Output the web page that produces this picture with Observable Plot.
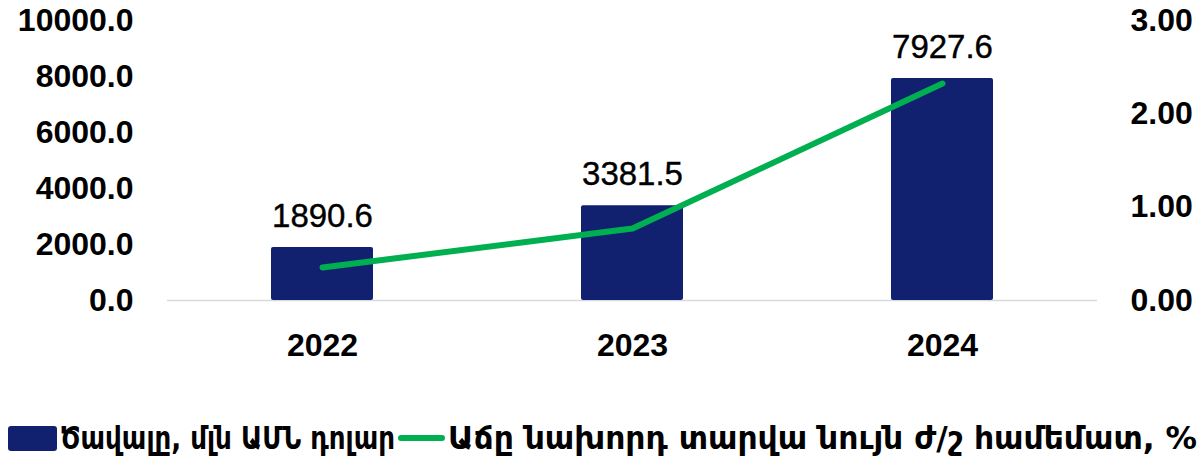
<!DOCTYPE html>
<html>
<head>
<meta charset="utf-8">
<script src="https://cdn.jsdelivr.net/npm/d3@7"></script>
<script src="https://cdn.jsdelivr.net/npm/@observablehq/plot@0.6"></script>
<style>
  html, body { margin: 0; padding: 0; background: #fff; }
  body { width: 1202px; height: 460px; position: relative; overflow: hidden; font-family: "Liberation Sans", Arial, sans-serif; }
  #chart { position: absolute; left: 0; top: 0; }
  #legend { position: absolute; left: 0; top: 420px; width: 1202px; height: 36px;
    font-family: "DejaVu Sans Condensed", "DejaVu Sans", sans-serif; font-weight: bold; font-stretch: condensed;
    font-size: 32px; color: #000; white-space: nowrap; }
  .item { position: absolute; top: 0; height: 36px; display: flex; align-items: center; }
  .swatch { width: 49px; height: 25px; background: #12216f; border-radius: 3px; flex: none; }
  .ln { width: 47px; height: 6px; background: #00b050; border-radius: 3px; flex: none; }
  .lt { display: inline-block; transform-origin: 0 50%; }
</style>
</head>
<body>
<div id="chart"></div>
<div id="legend"></div>
<script>
const years = ["2022", "2023", "2024"];
const volume = [1890.6, 3381.5, 7927.6];
const growth = [0.354, 0.771, 2.325];
const leftTicks = [0, 2000, 4000, 6000, 8000, 10000];
const rightTicks = [0, 1, 2, 3];
const seriesNames = ["Ծավալը, մլն ԱՄՆ դոլար", "Աճը նախորդ տարվա նույն ժ/շ համեմատ, %"];

const K = 10000 / 3; // right-axis to left-axis conversion
const data = years.map((y, i) => ({year: y, volume: volume[i], growth: growth[i]}));

const font = "Liberation Sans, Arial, sans-serif";

const chart = Plot.plot({
  width: 1202,
  height: 380,
  marginLeft: 167,
  marginRight: 105,
  marginTop: 20,
  marginBottom: 80,
  style: {fontFamily: font, background: "#fff", color: "#000"},
  x: {domain: years, paddingInner: 0.67, paddingOuter: 0.335, axis: null},
  y: {domain: [0, 10000], axis: null},
  marks: [
    Plot.ruleY([0], {stroke: "#d9d9d9", strokeWidth: 1.5}),
    Plot.barY(data, {x: "year", y: "volume", fill: "#12216f", rx: 2}),
    Plot.line(data, {x: "year", y: d => d.growth * K, stroke: "#00b050", strokeWidth: 6, strokeLinecap: "round", strokeLinejoin: "round"}),
    Plot.text(data, {x: "year", y: "volume", text: d => d.volume.toFixed(1), dy: -31, fontSize: 33, fill: "#000", stroke: "#000", strokeWidth: 0.4, fontFamily: font}),
    Plot.axisY(leftTicks, {anchor: "left", tickSize: 0, tickPadding: 34, tickFormat: d => d.toFixed(1), fontSize: 32, fontWeight: "bold", fill: "#000", label: null}),
    Plot.axisY(rightTicks.map(v => v * K), {anchor: "right", tickSize: 0, tickPadding: 33, tickFormat: d => (d / K).toFixed(2), fontSize: 32, fontWeight: "bold", fill: "#000", label: null}),
    Plot.axisX({anchor: "bottom", tickSize: 0, tickPadding: 33, fontSize: 32, fontWeight: "bold", fill: "#000", label: null})
  ]
});
document.getElementById("chart").appendChild(chart);

const legend = document.getElementById("legend");
legend.innerHTML = `
  <div class="item" style="left:8px"><div class="swatch"></div><span class="lt" style="margin-left:3px">${seriesNames[0]}</span></div>
  <div class="item" style="left:398px"><div class="ln"></div><span class="lt" style="margin-left:3px">${seriesNames[1]}</span></div>
`;
// fit each legend label to the width it occupies in the reference
const targets = [335, 749];
legend.querySelectorAll(".lt").forEach((el, i) => {
  const w = el.getBoundingClientRect().width;
  el.style.transform = `scaleX(${targets[i] / w})`;
});
</script>
</body>
</html>
